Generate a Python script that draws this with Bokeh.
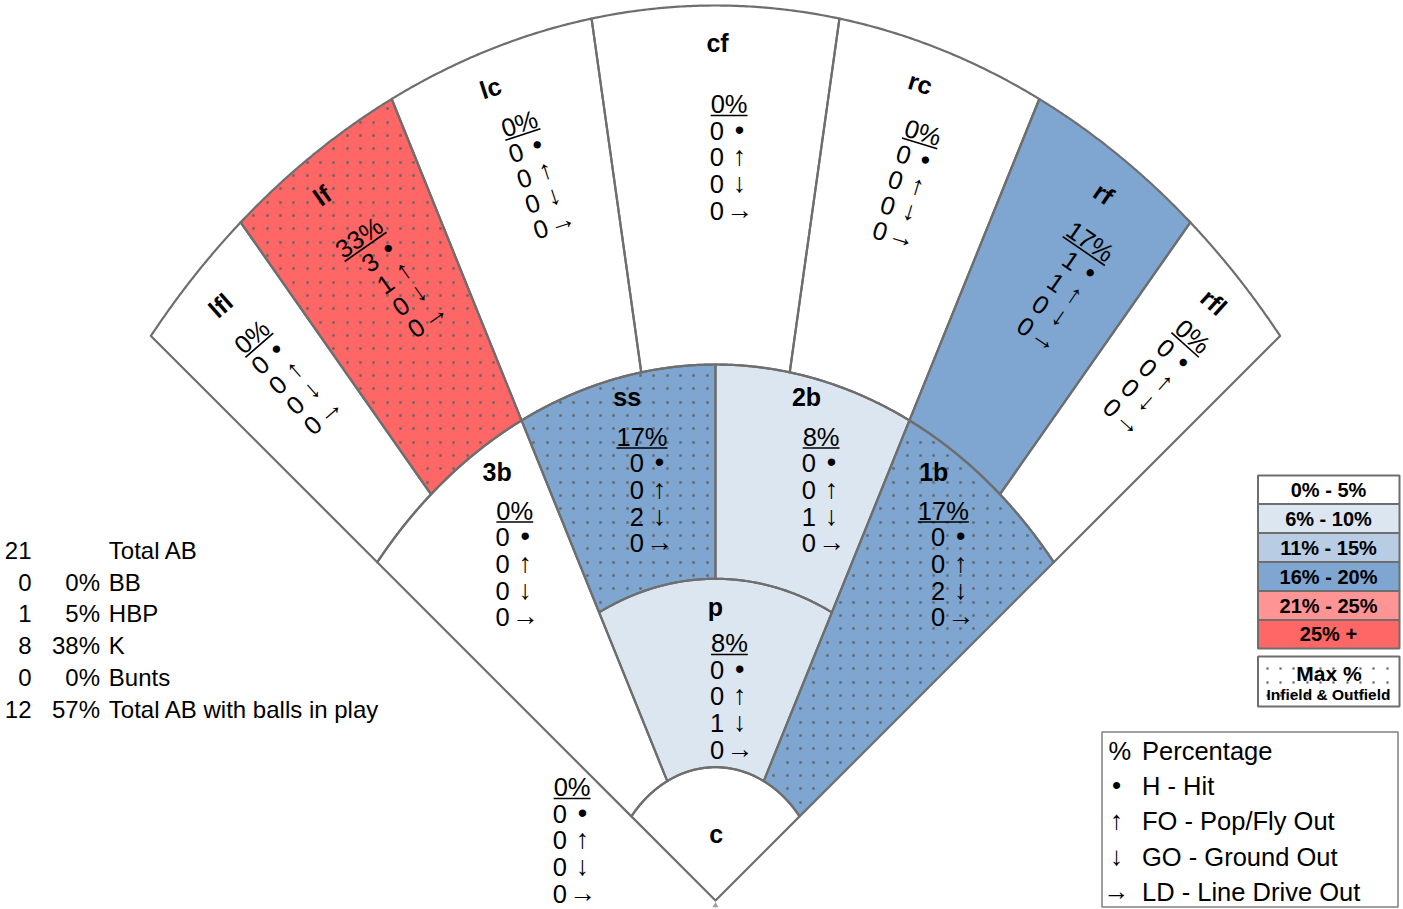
import math
from bokeh.plotting import figure
from bokeh.models import Range1d
from bokeh.embed import file_html
from bokeh.resources import INLINE
from bokeh.core.properties import value

# ---------------- data ----------------
positions = ["lfl", "lf", "lc", "cf", "rc", "rf", "rfl", "3b", "ss", "2b", "1b", "p", "c"]
zone = ["OF", "OF", "OF", "OF", "OF", "OF", "OF", "IF", "IF", "IF", "IF", "IF", "IF"]
pct = [0, 33, 0, 0, 0, 17, 0, 0, 17, 8, 17, 8, 0]
hits = [0, 3, 0, 0, 0, 1, 0, 0, 0, 0, 0, 0, 0]
fly_outs = [0, 1, 0, 0, 0, 1, 0, 0, 0, 0, 0, 0, 0]
ground_outs = [0, 0, 0, 0, 0, 0, 0, 0, 2, 1, 2, 1, 0]
line_drives = [0, 0, 0, 0, 0, 0, 0, 0, 0, 0, 0, 0, 0]

summary_counts = ["21", "0", "1", "8", "0", "12"]
summary_pcts = ["", "0%", "5%", "38%", "0%", "57%"]
summary_labels = ["Total AB", "BB", "HBP", "K", "Bunts", "Total AB with balls in play"]

bin_labels = ["0% - 5%", "6% - 10%", "11% - 15%", "16% - 20%", "21% - 25%", "25% +"]
bin_colors = ["#FFFFFF", "#DCE6F1", "#B8CCE4", "#7EA6D0", "#FF9494", "#FF6666"]
bin_upper = [5, 10, 15, 20, 25, 1000]

legend_symbols = ["%", "\u2022", "\u2191", "\u2193", "\u2192"]
legend_texts = ["Percentage", "H - Hit", "FO - Pop/Fly Out", "GO - Ground Out", "LD - Line Drive Out"]
stat_symbols = ["\u2022", "\u2191", "\u2193", "\u2192"]

# ---------------- layout ----------------
W, H = 1403, 909
FONT = "Liberation Sans"
EDGE = "#6E6E6E"
DOT = "#646464"


def Y(py):
    return H - py


APEX = (715.0, Y(900))
RINGS = {"outer": (727.6, 895.0), "infield": (436.0, 536.0),
         "pitcher": (261.5, 321.7), "catcher": (108.4, 133.3)}
SECTORS = {
    "lfl": (45, 35, "infield", "outer"), "lf": (35, 22, "infield", "outer"),
    "lc": (22, 8, "infield", "outer"), "cf": (8, -8, "infield", "outer"),
    "rc": (-8, -22, "infield", "outer"), "rf": (-22, -35, "infield", "outer"),
    "rfl": (-35, -45, "infield", "outer"),
    "3b": (45, 22, "catcher", "infield"), "ss": (22, 0, "pitcher", "infield"),
    "2b": (0, -22, "pitcher", "infield"), "1b": (-22, -45, "catcher", "infield"),
    "p": (22, -22, "catcher", "pitcher"), "c": (45, -45, None, "catcher"),
}
# block anchor: right edge of percentage text (pixel x, pixel y), rotation deg
BLOCKS = {
    "lfl": (265.2, 324.0, 41), "lf": (379.4, 222.3, 35), "lc": (536.4, 117.4, 18),
    "cf": (747.0, 103.5, 0), "rc": (940.1, 137.3, -17), "rf": (1110.8, 255.5, -34.5),
    "rfl": (1206.0, 348.2, -42), "3b": (532.7, 510.0, 0), "ss": (667.0, 436.0, 0),
    "2b": (839.0, 436.0, 0), "1b": (968.3, 510.0, 0), "p": (747.3, 642.5, 0),
    "c": (590.0, 786.5, 0),
}
LABELS = {
    "lfl": (220, 305), "lf": (321.7, 195), "lc": (490, 87.3), "cf": (717, 42),
    "rc": (920, 82.7), "rf": (1103.3, 193.3), "rfl": (1213.3, 301.7),
    "3b": (496.7, 471.7), "ss": (626.7, 396.7), "2b": (806, 396.7),
    "1b": (933.3, 471.7), "p": (715, 606.7), "c": (715.7, 833.3),
}


def ell_pt(theta, ring):
    a, b = RINGS[ring]
    s, c = math.sin(math.radians(theta)), math.cos(math.radians(theta))
    t = 1.0 / math.sqrt((s / a) ** 2 + (c / b) ** 2)
    return APEX[0] - t * s, APEX[1] + t * c


def arc(t1, t2, ring, n=80):
    return [ell_pt(t1 + (t2 - t1) * i / n, ring) for i in range(n + 1)]


def sector_poly(name):
    t1, t2, inner, outer = SECTORS[name]
    pts = arc(t1, t2, outer)
    if inner is None:
        pts.append(APEX)
    else:
        pts += arc(t2, t1, inner)
    return [q[0] for q in pts], [q[1] for q in pts]


def inside(x, y, px_, py_):
    res = False
    n = len(px_)
    j = n - 1
    for i in range(n):
        if (py_[i] > y) != (py_[j] > y):
            xc = px_[i] + (y - py_[i]) * (px_[j] - px_[i]) / (py_[j] - py_[i])
            if x < xc:
                res = not res
        j = i
    return res


STEP = 13.333


def dot_grid(px_, py_, margin=2.5):
    xmin, xmax, ymin, ymax = min(px_), max(px_), min(py_), max(py_)
    out_x, out_y = [], []
    k0 = int(xmin // STEP) - 1
    k1 = int(xmax // STEP) + 2
    m0 = int((Y(ymax)) // STEP) - 1
    m1 = int((Y(ymin)) // STEP) + 2
    for k in range(k0, k1):
        gx = float(round(k * STEP))
        for m in range(m0, m1):
            gy = Y(float(round(1.67 + m * STEP)))
            if inside(gx, gy, px_, py_):
                ok = all(inside(gx + dx, gy + dy, px_, py_) for dx, dy in
                         ((margin, 0), (-margin, 0), (0, margin), (0, -margin)))
                if ok:
                    out_x.append(gx)
                    out_y.append(gy)
    return out_x, out_y


def color_for(v):
    for up, col in zip(bin_upper, bin_colors):
        if v <= up:
            return col
    return bin_colors[-1]


zone_max = {z: max(v for v, zz in zip(pct, zone) if zz == z) for z in set(zone)}
is_max = [v > 0 and v == zone_max[z] for v, z in zip(pct, zone)]

p = figure(width=W, height=H, x_range=Range1d(0, W), y_range=Range1d(0, H),
           output_backend="svg", toolbar_location=None, min_border=0,
           x_axis_location=None, y_axis_location=None)
p.grid.visible = False
p.outline_line_color = None
p.background_fill_color = "white"

xs, ys, fills = [], [], []
dx_all, dy_all = [], []
for name, v, m in zip(positions, pct, is_max):
    px_, py_ = sector_poly(name)
    xs.append(px_)
    ys.append(py_)
    fills.append(color_for(v))
    if m:
        gx, gy = dot_grid(px_, py_)
        dx_all += gx
        dy_all += gy

p.patches(xs, ys, fill_color=fills, line_color=None)
p.scatter(dx_all, dy_all, size=2.4, marker="square", fill_color=DOT, line_color=None)
p.patches(xs, ys, fill_alpha=0, line_color=EDGE, line_width=2.2, line_join="round")
p.scatter([APEX[0]], [APEX[1] - 5], marker="triangle", size=6, fill_color="#A0A0A0",
          line_color=None)


def place(anchor, ang, lx, ly):
    ax, ay = anchor[0], Y(anchor[1])
    a = math.radians(ang)
    return ax + lx * math.cos(a) - ly * math.sin(a), ay + lx * math.sin(a) + ly * math.cos(a)


FS = 25.5
LH = 26.7
pt_x, pt_y, pt_t, pt_a = [], [], [], []
nx, ny, nt, na = [], [], [], []
sx, sy, st, sa = [], [], [], []
ux0, uy0, ux1, uy1 = [], [], [], []
for i, name in enumerate(positions):
    bx, by, ang = BLOCKS[name]
    a_rad = math.radians(ang)
    ptxt = "%d%%" % pct[i]
    x0, y0 = place((bx, by), ang, 0, 0)
    pt_x.append(x0); pt_y.append(y0); pt_t.append(ptxt); pt_a.append(a_rad)
    w = FS * (0.556 * (len(ptxt) - 1) + 0.889)
    a1 = place((bx, by), ang, -w, -11.5)
    a2 = place((bx, by), ang, 0, -11.5)
    ux0.append(a1[0]); uy0.append(a1[1]); ux1.append(a2[0]); uy1.append(a2[1])
    counts = [hits[i], fly_outs[i], ground_outs[i], line_drives[i]]
    for k, (cnt, sym) in enumerate(zip(counts, stat_symbols)):
        q = place((bx, by), ang, -23.5, -LH * (k + 1))
        nx.append(q[0]); ny.append(q[1]); nt.append(str(cnt)); na.append(a_rad)
        q = place((bx, by), ang, -8, -LH * (k + 1) + 1)
        sx.append(q[0]); sy.append(q[1]); st.append(sym); sa.append(a_rad)

p.text(pt_x, pt_y, text=pt_t, angle=pt_a, text_align="right", text_baseline="middle",
       text_font=value(FONT), text_font_size="25.5px", text_color="black")
p.segment(ux0, uy0, ux1, uy1, line_color="black", line_width=1.6)
p.text(nx, ny, text=nt, angle=na, text_align="right", text_baseline="middle",
       text_font=value(FONT), text_font_size="25.5px", text_color="black")
p.text(sx, sy, text=st, angle=sa, text_align="center", text_baseline="middle",
       text_font=value(FONT), text_font_size="27px", text_color="black")

lx_, ly_, lt_, la_ = [], [], [], []
for name in positions:
    cx, cy = LABELS[name]
    lx_.append(cx); ly_.append(Y(cy)); lt_.append(name)
    la_.append(math.radians(BLOCKS[name][2]) if SECTORS[name][3] == "outer" else 0.0)
p.text(lx_, ly_, text=lt_, angle=la_, text_align="center", text_baseline="middle",
       text_font=value(FONT), text_font_size="25px", text_font_style="bold", text_color="black")

# summary block (left)
rows_y = [Y(550 + 31.7 * i) for i in range(len(summary_labels))]
p.text([31] * len(rows_y), rows_y, text=summary_counts, text_align="right", text_baseline="middle",
       text_font=value(FONT), text_font_size="24px", text_color="black")
p.text([99.5] * len(rows_y), rows_y, text=summary_pcts, text_align="right", text_baseline="middle",
       text_font=value(FONT), text_font_size="24px", text_color="black")
p.text([108.3] * len(rows_y), rows_y, text=summary_labels, text_align="left", text_baseline="middle",
       text_font=value(FONT), text_font_size="24px", text_color="black")

# colour legend (right)
tops = [475, 503.5, 532.5, 561.5, 590.5, 619.5]
bots = [503.5, 532.5, 561.5, 590.5, 619.5, 648]
p.quad(left=1257.5, right=1399, top=[Y(t) for t in tops], bottom=[Y(b) for b in bots],
       fill_color=bin_colors, line_color=EDGE, line_width=2)
p.text([1328] * len(bin_labels), [Y((t + b) / 2) for t, b in zip(tops, bots)], text=bin_labels,
       text_align="center", text_baseline="middle", text_font=value(FONT),
       text_font_size="20px", text_font_style="bold", text_color="black")
mx = [1257.5, 1399, 1399, 1257.5]
my = [Y(656), Y(656), Y(706), Y(706)]
p.patch(mx, my, fill_color="white", line_color=None)
gx, gy = dot_grid(mx, my, margin=2.0)
p.scatter(gx, gy, size=2.2, marker="square", fill_color=DOT, line_color=None)
p.patch(mx, my, fill_alpha=0, line_color=EDGE, line_width=2)
p.text([1328.5], [Y(672.5)], text=["Max %"], text_align="center", text_baseline="middle",
       text_font=value(FONT), text_font_size="21px", text_font_style="bold", text_color="black")
p.text([1328], [Y(694)], text=["Infield & Outfield"], text_align="center", text_baseline="middle",
       text_font=value(FONT), text_font_size="15.5px", text_font_style="bold", text_color="black")

# symbol legend (bottom right)
p.quad(left=[1101.5], right=[1397.5], top=[Y(731.5)], bottom=[Y(906.5)], fill_color="white",
       line_color="#808080", line_width=1.5)
leg_y = [Y(750 + 35.4 * i) for i in range(len(legend_texts))]
p.text([1108], leg_y[:1], text=legend_symbols[:1], text_align="left", text_baseline="middle",
       text_font=value(FONT), text_font_size="25.5px", text_color="black")
p.text([1116] * (len(leg_y) - 1), [v + 1 for v in leg_y[1:]], text=legend_symbols[1:],
       text_align="center", text_baseline="middle",
       text_font=value(FONT), text_font_size="26px", text_color="black")
p.text([1141.5] * len(leg_y), leg_y, text=legend_texts, text_align="left", text_baseline="middle",
       text_font=value(FONT), text_font_size="25.5px", text_color="black")

open("out.html", "w").write(file_html(p, INLINE))
